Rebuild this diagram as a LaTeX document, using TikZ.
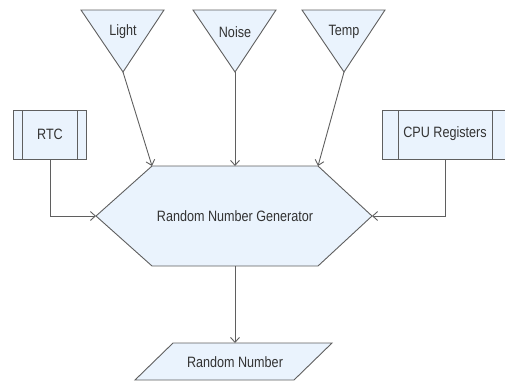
\documentclass[tikz,border=0pt]{standalone}
\usepackage{fontspec}
\setmainfont{Liberation Sans}[FakeStretch=0.84]
\usetikzlibrary{arrows.meta}
\definecolor{fillc}{HTML}{EAF3FD}
\definecolor{linec}{HTML}{5F5F5F}
\definecolor{textc}{HTML}{333333}
\begin{document}
\begin{tikzpicture}[x=1pt,y=-1pt,
  shapestyle/.style={fill=fillc,draw=linec,line width=0.9pt,line join=miter},
  lbl/.style={text=textc,font=\fontsize{15}{18}\selectfont,inner sep=0pt},
  conn/.style={draw=linec,line width=0.9pt,-{Straight Barb[length=5pt,width=9pt]}}]
\useasboundingbox (0,0) rectangle (505,383);
% triangles
\draw[shapestyle] (81,10) -- (164,10) -- (123,72) -- cycle;
\draw[shapestyle] (193,10) -- (276,10) -- (235,72) -- cycle;
\draw[shapestyle] (302,10) -- (385,10) -- (344,72) -- cycle;
\coordinate (lightapex) at (123,72);
\coordinate (noiseapex) at (235,72);
\coordinate (tempapex) at (344,72);
\node[lbl] (light) at (123,32) {Light};
\node[lbl] (noise) at (235,32) {Noise};
\node[lbl] (temp) at (344,32) {Temp};
% RTC
\draw[shapestyle] (13,110) rectangle (86,159);
\draw[linec,line width=0.9pt] (22,110) -- (22,159) (77,110) -- (77,159);
\node[lbl] (rtc) at (50,134) {RTC};
\coordinate (rtcbot) at (50,159);
% CPU registers
\draw[shapestyle] (382,110) rectangle (507,159);
\draw[linec,line width=0.9pt] (398,110) -- (398,159) (492,110) -- (492,159);
\node[lbl] (cpu) at (445,134) {CPU Registers};
\coordinate (cpubot) at (445,159);
% hexagon
\draw[shapestyle] (96,216) -- (152,166) -- (318,166) -- (372,216) -- (318,266) -- (152,266) -- cycle;
\node[lbl] (rng) at (235,216) {Random Number Generator};
\coordinate (hexL) at (96,216);
\coordinate (hexR) at (372,216);
\coordinate (hexTL) at (152,166);
\coordinate (hexT) at (235,166);
\coordinate (hexTR) at (318,166);
\coordinate (hexB) at (235,266);
% parallelogram
\draw[shapestyle] (173,343) -- (332,343) -- (294,380) -- (135,380) -- cycle;
\node[lbl] (out) at (235,362) {Random Number};
\coordinate (outT) at (235,343);
% connectors
\draw[conn] (lightapex) -- (hexTL);
\draw[conn] (noiseapex) -- (hexT);
\draw[conn] (tempapex) -- (hexTR);
\draw[conn] (rtcbot) |- (hexL);
\draw[conn] (cpubot) |- (hexR);
\draw[conn] (hexB) -- (outT);
\end{tikzpicture}
\end{document}
